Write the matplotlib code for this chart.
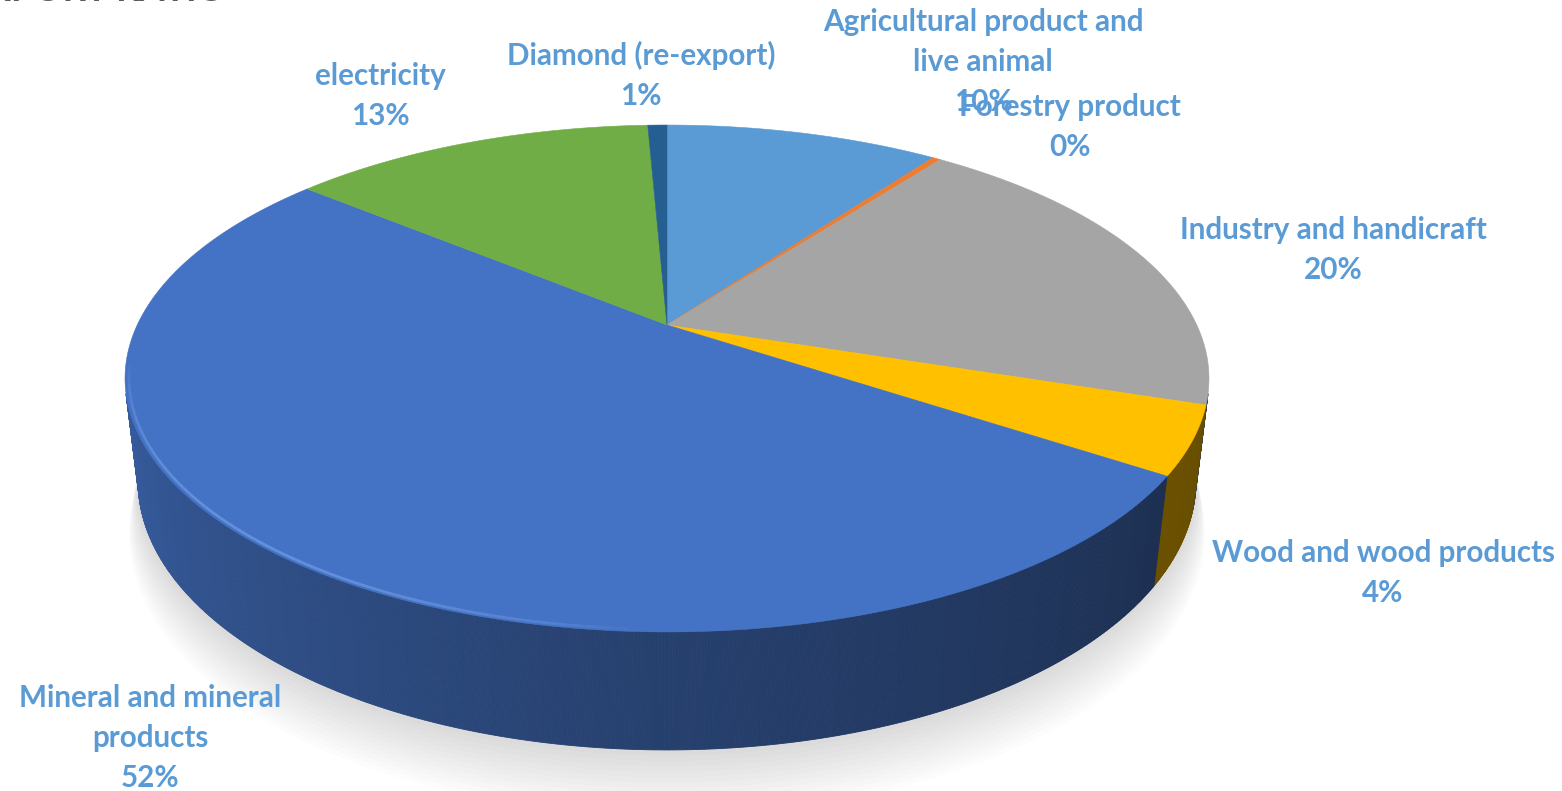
import numpy as np
import matplotlib
matplotlib.use("Agg")
import matplotlib.pyplot as plt
from matplotlib.patches import Polygon
from matplotlib.colors import to_rgb

# ---- data -------------------------------------------------------------
categories = [
    "Agricultural product and\nlive animal",
    "Forestry product",
    "Industry and handicraft",
    "Wood and wood products",
    "Mineral and mineral\nproducts",
    "electricity",
    "Diamond (re-export)",
]
shares = [10.0, 0.3, 19.7, 4.3, 51.7, 13.3, 0.7]
colors = ["#5B9BD5", "#ED7D31", "#A5A5A5", "#FFC000", "#4472C4", "#70AD47", "#255E91"]
title = "EXPORT RATIO"

# label anchor (centre of each text block, pixels)
label_pos = [(983, 62), (1070, 127), (1333, 250), (1383, 573),
             (150, 738), (380, 96), (641, 75)]

# ---- 3-D view of the disc ----------------------------------------------
W, H = 1562, 791
ELEV = np.radians(27.2)
DIST = 4.215
FOCAL = 2233.0
CX, CY = 667.0, 325.0
THICK = 0.219


def project(theta, r=1.0, down=0.0):
    """theta measured clockwise from 12 o'clock (away from the viewer)."""
    s, c = np.sin(ELEV), np.cos(ELEV)
    u = r * np.sin(theta)
    v = r * np.cos(theta)
    X = u
    Y = v * s - down * c
    Z = v * c + down * s
    w = DIST + Z
    return CX + FOCAL * X / w, CY - FOCAL * Y / w


fig = plt.figure(figsize=(W / 100, H / 100), dpi=100)
ax = fig.add_axes([0, 0, 1, 1])
ax.set_xlim(0, W)
ax.set_ylim(H, 0)
ax.axis("off")

vals = np.asarray(shares, dtype=float)
frac = vals / vals.sum()
edges = np.concatenate([[0.0], np.cumsum(frac)]) * 2 * np.pi


def slice_of(theta):
    t = theta % (2 * np.pi)
    return min(np.searchsorted(edges, t, side="right") - 1, len(vals) - 1)


# soft shadow under the disc
full = np.linspace(0, 2 * np.pi, 400)
for k in range(1, 13):
    sx, sy = project(full, r=1.0 + 0.002 * k, down=THICK + 0.006 * k)
    ax.add_patch(Polygon(np.column_stack([sx, sy + 1.5 * k]), closed=True,
                         facecolor="#000000", edgecolor="none", alpha=0.012, zorder=1))

# side wall, shaded by facing direction
shade_ang = np.radians([60, 100, 125, 180, 230, 270, 300])
shade_fac = [0.40, 0.40, 0.42, 0.56, 0.72, 0.86, 0.88]
th = np.linspace(0, 2 * np.pi, 1441)
quads = []
for a, b in zip(th[:-1], th[1:]):
    x1, y1 = project(a)
    x2, y2 = project(b)
    x3, y3 = project(b, down=THICK)
    x4, y4 = project(a, down=THICK)
    pts = np.array([[x1, y1], [x2, y2], [x3, y3], [x4, y4]])
    area = 0.5 * np.sum(pts[:, 0] * np.roll(pts[:, 1], -1) - np.roll(pts[:, 0], -1) * pts[:, 1])
    if area >= 0:
        continue
    mid = 0.5 * (a + b)
    f = np.interp(mid, shade_ang, shade_fac)
    col = np.clip(np.array(to_rgb(colors[slice_of(mid)])) * f, 0, 1)
    depth = np.cos(mid)
    quads.append((depth, pts, col))
quads.sort(key=lambda q: -q[0])
for _, pts, col in quads:
    ax.add_patch(Polygon(pts, closed=True, facecolor=col, edgecolor=col,
                         linewidth=0.6, zorder=2))

# top face
for i, col in enumerate(colors):
    a0, a1 = edges[i], edges[i + 1]
    n = max(int((a1 - a0) / (2 * np.pi) * 720), 2)
    t = np.linspace(a0, a1, n)
    px, py = project(t)
    pts = np.vstack([[CX, CY], np.column_stack([px, py])])
    ax.add_patch(Polygon(pts, closed=True, facecolor=col, edgecolor=col,
                         linewidth=0.4, zorder=3))

# bevel highlight along the front rim, fading at both ends
hl = np.linspace(np.radians(182), np.radians(262), 60)
hx, hy = project(hl, r=0.993)
fade = np.sin(np.linspace(0, np.pi, len(hl) - 1)) ** 0.6
for j in range(len(hl) - 1):
    ax.plot(hx[j:j + 2], hy[j:j + 2], color="#6F9BE3", lw=2.0,
            alpha=0.75 * fade[j], zorder=4, solid_capstyle="butt")

# ---- labels ---------------------------------------------------------------
font = dict(family=["Lato", "DejaVu Sans"], weight="bold", color="#5B9BD5",
            fontsize=21.3, ha="center", va="center", linespacing=1.52)
for name, v, (lx, ly) in zip(categories, shares, label_pos):
    ax.text(lx, ly, f"{name}\n{round(v):.0f}%", zorder=6, **font)

ax.text(226, 7, title, family=["Lato", "DejaVu Sans"], weight="bold",
        color="#595959", fontsize=26, ha="right", va="bottom", zorder=6)

fig.savefig("out.png", dpi=100, facecolor="white")
